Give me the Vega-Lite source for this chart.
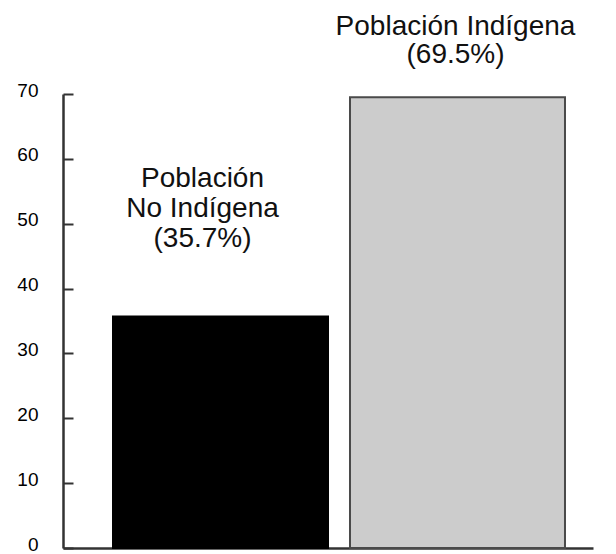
{
  "$schema": "https://vega.github.io/schema/vega-lite/v6.json",
  "autosize": "none",
  "width": 530,
  "height": 454,
  "padding": {"left": 63, "top": 94, "right": 23, "bottom": 6},
  "background": "white",
  "config": {"view": {"stroke": null}, "font": "Liberation Sans"},
  "data": {"values": [
    {"grupo": "No Indígena", "valor": 35.7, "etiqueta": "Población\nNo Indígena\n(35.7%)"},
    {"grupo": "Indígena", "valor": 69.5, "etiqueta": "Población Indígena\n(69.5%)"}
  ]},
  "encoding": {
    "x": {"field": "grupo", "type": "nominal", "sort": null,
      "scale": {"paddingInner": 0.0928, "paddingOuter": 0.1646, "align": 0.641},
      "axis": {"title": null, "labels": false, "ticks": false, "domainColor": "#333333", "domainWidth": 2.5}},
    "y": {"field": "valor", "type": "quantitative",
      "scale": {"domain": [0, 70], "nice": false},
      "axis": {"title": null, "values": [0,10,20,30,40,50,60,70], "grid": false,
        "domainColor": "#333333", "domainWidth": 2.5, "tickColor": "#333333", "tickWidth": 2,
        "tickSize": -10, "labelPadding": 35, "labelFontSize": 19, "labelColor": "#000000",
        "labelOffset": -4, "labelFont": "Liberation Sans"}}
  },
  "layer": [
    {"mark": {"type": "bar", "strokeWidth": 2},
      "encoding": {
        "color": {"field": "grupo", "type": "nominal", "legend": null,
          "scale": {"domain": ["No Indígena", "Indígena"], "range": ["#000000", "#cccccc"]}},
        "stroke": {"field": "grupo", "type": "nominal", "legend": null,
          "scale": {"domain": ["No Indígena", "Indígena"], "range": ["#000000", "#4a4a4a"]}}
      }},
    {"transform": [{"filter": "datum.grupo === 'No Indígena'"}],
      "mark": {"type": "text", "lineBreak": "\n", "fontSize": 28, "lineHeight": 30, "baseline": "alphabetic", "align": "center", "dx": -18, "dy": -129, "color": "#111111"},
      "encoding": {"text": {"field": "etiqueta"}}},
    {"transform": [{"filter": "datum.grupo === 'Indígena'"}],
      "mark": {"type": "text", "lineBreak": "\n", "fontSize": 28, "lineHeight": 28, "baseline": "alphabetic", "align": "center", "dx": -2, "dy": -62, "color": "#111111"},
      "encoding": {"text": {"field": "etiqueta"}}}
  ]
}
